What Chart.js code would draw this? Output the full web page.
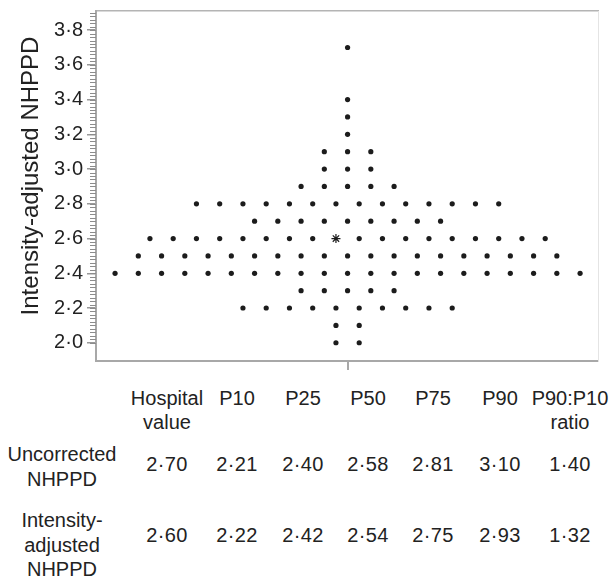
<!DOCTYPE html>
<html>
<head>
<meta charset="utf-8">
<script src="https://cdn.jsdelivr.net/npm/chart.js@4.4.1/dist/chart.umd.min.js"></script>
<style>
    body { margin: 0; background: #fff; }
    #wrap { position: relative; width: 613px; height: 580px; font-family: "Liberation Sans", Arial, sans-serif; color: #222; }
    #chartBox { position: absolute; left: 0; top: 0; width: 613px; height: 385px; }
    .cell { position: absolute; width: 130px; margin-left: -65px; text-align: center; font-size: 20px; line-height: 24px; white-space: nowrap; }
    .num { letter-spacing: 0.4px; }
</style>
</head>
<body>
<div id="wrap">
    <div id="chartBox"><canvas id="dotChart" width="613" height="385"></canvas></div>
</div>
<script>
// intensity-adjusted NHPPD levels and how many hospitals sit on each one (one dot each)
const nhppdLevels = [2.0, 2.1, 2.2, 2.3, 2.4, 2.5, 2.6, 2.7, 2.8, 2.9, 3.0, 3.1, 3.2, 3.3, 3.4, 3.5, 3.6, 3.7];
const hospitalCounts = [2, 2, 10, 5, 21, 19, 18, 9, 14, 5, 3, 3, 1, 1, 1, 0, 0, 1];

// the hospital itself, drawn as an asterisk in its row
const hospitalValue = 2.6;
const hospitalSlot = 8;

const yTickValues = [2.0, 2.2, 2.4, 2.6, 2.8, 3.0, 3.2, 3.4, 3.6, 3.8];

// table under the chart
const tableHeaders = [['Hospital', 'value'], ['P10'], ['P25'], ['P50'], ['P75'], ['P90'], ['P90:P10', 'ratio']];
const rowLabels = [['Uncorrected', 'NHPPD'], ['Intensity-', 'adjusted', 'NHPPD']];
const uncorrectedStats = [2.70, 2.21, 2.40, 2.58, 2.81, 3.10, 1.40];
const adjustedStats = [2.60, 2.22, 2.42, 2.54, 2.75, 2.93, 1.32];

const FONT = '"Liberation Sans", Arial, sans-serif';
const dot = v => v.replace('.', '\u00b7');

// stack the dots of each level side by side around the centre
const points = [];
const styles = [];
const radii = [];
nhppdLevels.forEach((level, li) => {
    const n = hospitalCounts[li];
    for (let i = 0; i < n; i++) {
        points.push({x: i - (n - 1) / 2, y: level});
        const isHospital = level === hospitalValue && i === hospitalSlot;
        styles.push(isHospital ? 'star' : 'circle');
        radii.push(isHospital ? 4.5 : 2.6);
    }
});

// small unlabelled ticks along the y axis
const minorTicks = {
    id: 'minorTicks',
    afterDraw(chart) {
        const y = chart.scales.y;
        const ctx = chart.ctx;
        ctx.save();
        ctx.strokeStyle = '#8c8c8c';
        ctx.lineWidth = 1;
        ctx.beginPath();
        for (let k = 0; k <= 95; k++) {
            const py = Math.round(y.getPixelForValue(2.0 + k * 0.02)) + 0.5;
            ctx.moveTo(y.right - 6, py);
            ctx.lineTo(y.right, py);
        }
        ctx.stroke();
        ctx.restore();
    }
};

const noPad = s => { s.paddingTop = 0; s.paddingBottom = 0; s.paddingLeft = 0; s.paddingRight = 0; };

new Chart(document.getElementById('dotChart').getContext('2d'), {
    type: 'scatter',
    data: {
        datasets: [{
            data: points,
            pointStyle: styles,
            pointRadius: radii,
            backgroundColor: '#1c1c1c',
            borderColor: '#1c1c1c',
            borderWidth: styles.map(s => s === 'star' ? 1.2 : 0)
        }]
    },
    plugins: [minorTicks],
    options: {
        responsive: false,
        animation: false,
        events: [],
        layout: {padding: {left: 0, right: 15, top: 11, bottom: 0}},
        plugins: {legend: {display: false}, tooltip: {enabled: false}},
        scales: {
            x: {
                type: 'linear',
                position: 'bottom',
                min: -10.82,
                max: 10.77,
                afterBuildTicks: s => { s.ticks = [{value: 0}]; },
                afterFit: s => { s.height = 24; noPad(s); },
                ticks: {callback: () => '', font: {size: 1}},
                grid: {display: true, drawOnChartArea: false, drawTicks: true, tickLength: 9, color: '#a8a8a8', lineWidth: 2},
                border: {display: true, color: '#a8a8a8', width: 2}
            },
            x2: {
                type: 'linear',
                position: 'top',
                afterFit: s => { s.height = 0; noPad(s); },
                ticks: {display: false},
                grid: {display: false, drawTicks: false},
                border: {display: true, color: '#b4b4b4', width: 1.5}
            },
            y: {
                type: 'linear',
                min: 1.895,
                max: 3.91,
                afterBuildTicks: s => { s.ticks = yTickValues.map(v => ({value: v})); },
                afterFit: s => { s.width = 96; noPad(s); },
                ticks: {
                    callback: v => dot(v.toFixed(1)),
                    font: {size: 20, family: FONT},
                    color: '#222',
                    padding: 4
                },
                grid: {drawOnChartArea: false, drawTicks: true, tickLength: 9, color: '#999', lineWidth: 1.5},
                border: {display: true, color: '#a8a8a8', width: 2},
                title: {
                    display: true,
                    text: '   Intensity-adjusted NHPPD',
                    font: {size: 24, family: FONT},
                    color: '#222',
                    padding: {top: 17, bottom: 0}
                }
            },
            y2: {
                type: 'linear',
                position: 'right',
                afterFit: s => { s.width = 0; noPad(s); },
                ticks: {display: false},
                grid: {display: false, drawTicks: false},
                border: {display: true, color: '#e4e4e4', width: 1}
            }
        }
    }
});

// build the table of percentiles
const wrap = document.getElementById('wrap');
const colCenters = [167, 237, 303, 368, 433, 500, 570];

function addCell(lines, left, top, lineHeight, cls) {
    const div = document.createElement('div');
    div.className = 'cell' + (cls ? ' ' + cls : '');
    div.style.left = left + 'px';
    div.style.top = top + 'px';
    div.style.lineHeight = lineHeight + 'px';
    div.innerHTML = lines.join('<br>');
    wrap.appendChild(div);
}

tableHeaders.forEach((h, i) => addCell(h, colCenters[i], 386, 24));
addCell(rowLabels[0], 62, 442, 25);
addCell(rowLabels[1], 62, 508, 24.5);
uncorrectedStats.forEach((v, i) => addCell([dot(v.toFixed(2))], colCenters[i], 452, 25, 'num'));
adjustedStats.forEach((v, i) => addCell([dot(v.toFixed(2))], colCenters[i], 523, 25, 'num'));
</script>
</body>
</html>
